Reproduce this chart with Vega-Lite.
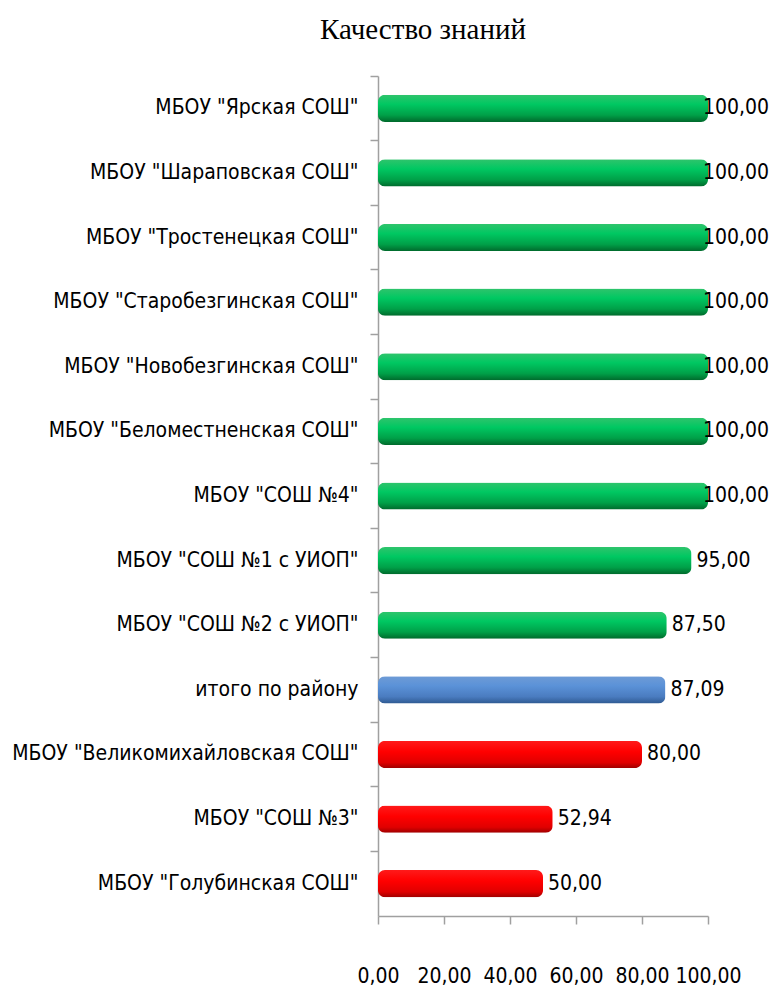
{
  "$schema": "https://vega.github.io/schema/vega-lite/v6.json",
  "width": 330,
  "height": 840,
  "autosize": {"type": "none"},
  "padding": {"left": 378, "top": 76, "right": 63, "bottom": 70},
  "background": "white",
  "title": {"text": "Качество знаний", "font": "Liberation Serif", "fontSize": 29, "fontWeight": "normal", "color": "#000000", "anchor": "middle", "dx": -120, "offset": 30},
  "config": {
    "view": {"stroke": null},
    "locale": {"number": {"decimal": ",", "thousands": " ", "grouping": [3], "currency": ["", ""]}}
  },
  "data": {
    "values": [
      {"school": "МБОУ \"Ярская СОШ\"", "value": 100.00, "group": "green"},
      {"school": "МБОУ \"Шараповская  СОШ\"", "value": 100.00, "group": "green"},
      {"school": "МБОУ \"Тростенецкая СОШ\"", "value": 100.00, "group": "green"},
      {"school": "МБОУ \"Старобезгинская СОШ\"", "value": 100.00, "group": "green"},
      {"school": "МБОУ \"Новобезгинская СОШ\"", "value": 100.00, "group": "green"},
      {"school": "МБОУ \"Беломестненская СОШ\"", "value": 100.00, "group": "green"},
      {"school": "МБОУ \"СОШ №4\"", "value": 100.00, "group": "green"},
      {"school": "МБОУ \"СОШ №1 с УИОП\"", "value": 95.00, "group": "green"},
      {"school": "МБОУ \"СОШ №2 с УИОП\"", "value": 87.50, "group": "green"},
      {"school": "итого по району", "value": 87.09, "group": "blue"},
      {"school": "МБОУ \"Великомихайловская СОШ\"", "value": 80.00, "group": "red"},
      {"school": "МБОУ \"СОШ №3\"", "value": 52.94, "group": "red"},
      {"school": "МБОУ \"Голубинская СОШ\"", "value": 50.00, "group": "red"}
    ]
  },
  "encoding": {
    "y": {
      "field": "school",
      "type": "nominal",
      "sort": null,
      "title": null,
      "scale": {"paddingInner": 0, "paddingOuter": 0},
      "axis": {
        "bandPosition": 0,
        "domainColor": "#a0a0a0",
        "domainWidth": 1.5,
        "tickColor": "#a0a0a0",
        "tickWidth": 1.5,
        "tickSize": 8,
        "labelFont": "DejaVu Sans Condensed",
        "labelFontSize": 21,
        "labelColor": "#000000",
        "labelPadding": 12,
        "labelLimit": 400,
        "labelBaseline": "middle"
      }
    },
    "x": {
      "field": "value",
      "type": "quantitative",
      "title": null,
      "scale": {"domain": [0, 100], "nice": false},
      "axis": {
        "values": [0, 20, 40, 60, 80, 100],
        "format": ".2f",
        "grid": false,
        "domainColor": "#a0a0a0",
        "domainWidth": 1.5,
        "tickColor": "#a0a0a0",
        "tickWidth": 1.5,
        "tickSize": 8,
        "labelFont": "DejaVu Sans Condensed",
        "labelFontSize": 21,
        "labelColor": "#000000",
        "labelPadding": 41,
        "labelFlush": false
      }
    }
  },
  "layer": [
    {
      "transform": [{"filter": "datum.group == 'green'"}],
      "mark": {"type": "bar", "height": {"band": 0.42}, "cornerRadius": 7,
        "color": {"gradient": "linear", "x1": 0, "y1": 0, "x2": 0, "y2": 1,
          "stops": [{"offset": 0, "color": "#2fc46c"}, {"offset": 0.35, "color": "#00c862"}, {"offset": 0.75, "color": "#00a048"}, {"offset": 1, "color": "#006a2c"}]}}
    },
    {
      "transform": [{"filter": "datum.group == 'blue'"}],
      "mark": {"type": "bar", "height": {"band": 0.42}, "cornerRadius": 7,
        "color": {"gradient": "linear", "x1": 0, "y1": 0, "x2": 0, "y2": 1,
          "stops": [{"offset": 0, "color": "#6e9bd6"}, {"offset": 0.35, "color": "#5b92d8"}, {"offset": 0.75, "color": "#4a7cc0"}, {"offset": 1, "color": "#2f5a92"}]}}
    },
    {
      "transform": [{"filter": "datum.group == 'red'"}],
      "mark": {"type": "bar", "height": {"band": 0.42}, "cornerRadius": 7,
        "color": {"gradient": "linear", "x1": 0, "y1": 0, "x2": 0, "y2": 1,
          "stops": [{"offset": 0, "color": "#ff1a1a"}, {"offset": 0.4, "color": "#ff0000"}, {"offset": 0.8, "color": "#e00000"}, {"offset": 1, "color": "#a00000"}]}}
    },
    {
      "transform": [{"filter": "datum.value < 100"}],
      "mark": {"type": "text", "align": "left", "baseline": "middle", "dx": 5, "font": "DejaVu Sans Condensed", "fontSize": 21, "color": "#000000"},
      "encoding": {"text": {"field": "value", "type": "quantitative", "format": ".2f"}}
    },
    {
      "transform": [{"filter": "datum.value >= 100"}],
      "mark": {"type": "text", "align": "left", "baseline": "middle", "dx": -5, "font": "DejaVu Sans Condensed", "fontSize": 21, "color": "#000000"},
      "encoding": {"text": {"field": "value", "type": "quantitative", "format": ".2f"}}
    }
  ]
}
